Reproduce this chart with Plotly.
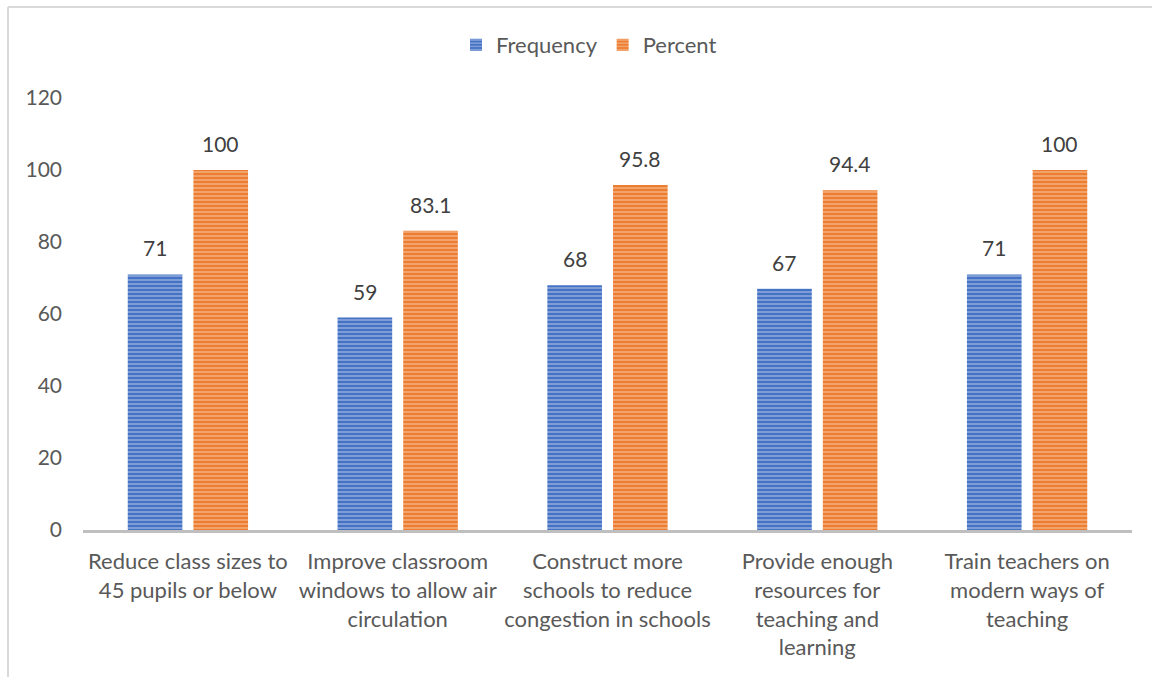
import plotly.graph_objects as go

categories = [
    "Reduce class sizes to<br>45 pupils or below",
    "Improve classroom<br>windows to allow air<br>circulation",
    "Construct more<br>schools to reduce<br>congestion in schools",
    "Provide enough<br>resources for<br>teaching and<br>learning",
    "Train teachers on<br>modern ways of<br>teaching",
]
frequency = [71, 59, 68, 67, 71]
percent = [100, 83.1, 95.8, 94.4, 100]
y_ticks = [0, 20, 40, 60, 80, 100, 120]

FONT = "Lato"
BLUE = "#4472C4"
ORANGE = "#ED7D31"
BARGAP = 0.374
GROUPGAP = 0.168

x_idx = list(range(len(categories)))

fig = go.Figure()
fig.add_trace(go.Bar(
    name="Frequency", x=x_idx, y=frequency,
    marker=dict(color=BLUE, line=dict(width=0),
                pattern=dict(shape="-", fgcolor="#D5DFF2", size=4, solidity=0.4)),
))
fig.add_trace(go.Bar(
    name="Percent", x=x_idx, y=percent,
    marker=dict(color=ORANGE, line=dict(width=0),
                pattern=dict(shape="-", fgcolor="#FBDCC7", size=4, solidity=0.4)),
))

# data labels above each bar, centred on the grouped bar positions
slot = (1 - BARGAP) / 2
annotations = []
for series, sign in ((frequency, -1), (percent, 1)):
    for i, v in zip(x_idx, series):
        annotations.append(dict(
            x=i + sign * slot / 2, y=v, xref="x", yref="y",
            text="%g" % v, showarrow=False, yanchor="bottom", yshift=12,
            font=dict(family=FONT, size=21, color="#404040"),
        ))

L, R, T, B = 83, 20, 98, 147
W, H = 1152, 677
pw, ph = W - L - R, H - T - B

def px_x(p):
    return (p - L) / pw

def px_y(p):
    return (H - B - p) / ph

fig.update_layout(
    width=W, height=H,
    margin=dict(l=L, r=R, t=T, b=B, pad=0),
    paper_bgcolor="white", plot_bgcolor="white",
    barmode="group", bargap=BARGAP, bargroupgap=GROUPGAP,
    font=dict(family=FONT, size=22, color="#595959"),
    showlegend=True,
    legend=dict(orientation="h", x=px_x(589), y=px_y(45), xanchor="center", yanchor="middle",
                font=dict(family=FONT, size=22, color="#595959"), itemwidth=30,
                traceorder="normal"),
    xaxis=dict(tickmode="array", tickvals=x_idx, ticktext=categories,
               range=[-0.5, len(categories) - 0.5],
               showline=True, linecolor="#BFBFBF", linewidth=3,
               showgrid=False, zeroline=False, ticks="",
               tickfont=dict(family=FONT, size=22, color="#595959"),
               ticklabelstandoff=10),
    yaxis=dict(range=[0, 120], tickmode="array", tickvals=y_ticks,
               showgrid=False, zeroline=False, showline=False, ticks="",
               tickfont=dict(family=FONT, size=21, color="#595959"),
               ticklabelstandoff=20),
    annotations=annotations,
    shapes=[
        dict(type="line", xref="paper", yref="paper",
             x0=px_x(8), x1=px_x(8), y0=px_y(7), y1=px_y(677),
             line=dict(color="#D9D9D9", width=2)),
        dict(type="line", xref="paper", yref="paper",
             x0=px_x(8), x1=px_x(1152), y0=px_y(7), y1=px_y(7),
             line=dict(color="#D9D9D9", width=2)),
    ],
)

fig.write_html("out.html")
